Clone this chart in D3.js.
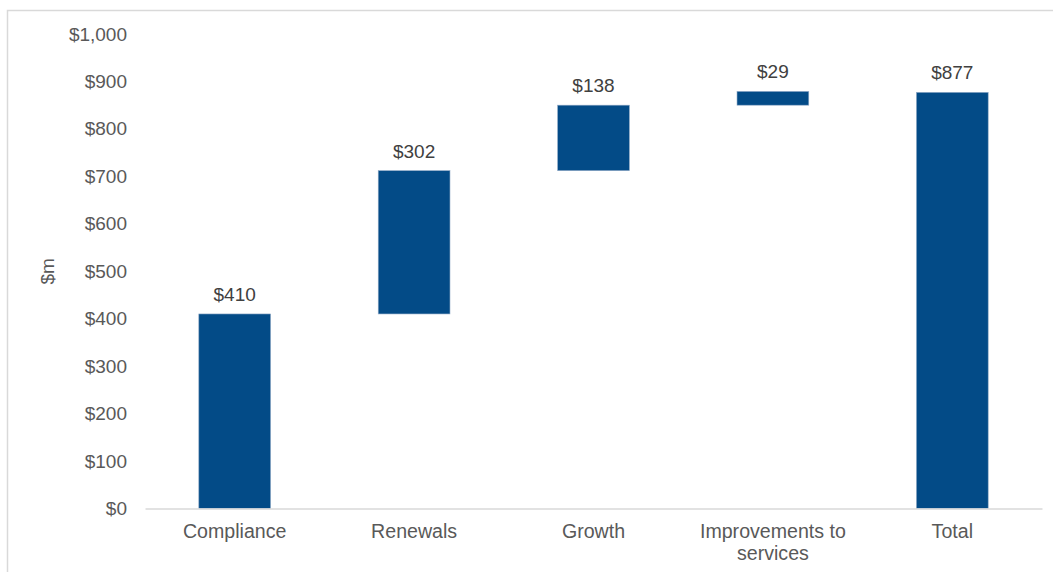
<!DOCTYPE html>
<html>
<head>
<meta charset="utf-8">
<script src="https://cdn.jsdelivr.net/npm/d3@7"></script>
<style>
  html, body { margin: 0; padding: 0; background: #fff; }
  svg { display: block; font-family: "Liberation Sans", Arial, sans-serif; }
</style>
</head>
<body>
<svg id="chart" width="1053" height="572"></svg>
<script>
// Waterfall of funding components ($m)
const categories = ["Compliance", "Renewals", "Growth", "Improvements to services", "Total"];
const increments = [410, 302, 138, 29];
const totalValue = 877;
const valueLabels = ["$410", "$302", "$138", "$29", "$877"];
const yTicks = [0, 100, 200, 300, 400, 500, 600, 700, 800, 900, 1000];

const W = 1053, H = 572;
const margin = { left: 145, right: 11, top: 34, bottom: 63.5 };
const barColor = "#034b87";
const textColor = "#595959";
const fontSize = "19px";
const catFontSize = "19.6px";

const svg = d3.select("#chart");

// outer frame
svg.append("rect")
  .attr("x", 7.5).attr("y", 10.5)
  .attr("width", W + 10).attr("height", H + 10)
  .attr("fill", "none").attr("stroke", "#d9d9d9").attr("stroke-width", 1.5);

const x = d3.scaleBand()
  .domain(categories)
  .range([margin.left, W - margin.right])
  .paddingInner(0.6).paddingOuter(0.3);

const y = d3.scaleLinear()
  .domain([0, 1000])
  .range([H - margin.bottom, margin.top]);

// build floating segments: each step starts where the previous ended
let running = 0;
const segments = increments.map((v, i) => {
  const s = { cat: categories[i], start: running, end: running + v, label: valueLabels[i] };
  running += v;
  return s;
});
segments.push({ cat: categories[4], start: 0, end: totalValue, label: valueLabels[4] });

// y axis labels (no axis line, no ticks)
const yAxis = d3.axisLeft(y)
  .tickValues(yTicks)
  .tickSize(0)
  .tickPadding(0)
  .tickFormat(d => "$" + d3.format(",")(d));
const gy = svg.append("g")
  .attr("transform", `translate(${127},0)`)
  .call(yAxis);
gy.select(".domain").remove();
gy.selectAll("text")
  .attr("fill", textColor)
  .style("font-size", fontSize)
  .style("font-family", "'Liberation Sans', Arial, sans-serif");

// y axis title
svg.append("text")
  .attr("transform", `translate(54,${(y(0) + y(1000)) / 2}) rotate(-90)`)
  .attr("text-anchor", "middle")
  .attr("fill", textColor)
  .style("font-size", fontSize)
  .text("$m");

// bars
svg.append("g").selectAll("rect")
  .data(segments)
  .join("rect")
  .attr("x", d => x(d.cat))
  .attr("width", x.bandwidth())
  .attr("y", d => y(d.end))
  .attr("height", d => y(d.start) - y(d.end))
  .attr("fill", barColor)
  .attr("stroke", "#8fa9c6")
  .attr("stroke-width", 0.6);

// value labels
svg.append("g").selectAll("text")
  .data(segments)
  .join("text")
  .attr("x", d => x(d.cat) + x.bandwidth() / 2)
  .attr("y", d => y(d.end) - 13)
  .attr("text-anchor", "middle")
  .attr("fill", "#404040")
  .style("font-size", fontSize)
  .text(d => d.label);

// x axis
const xAxis = d3.axisBottom(x).tickSize(0).tickPadding(0);
const gx = svg.append("g")
  .attr("transform", `translate(0,${y(0)})`)
  .call(xAxis);
gx.select(".domain").attr("stroke", "#d9d9d9").attr("stroke-width", 1.5);
gx.selectAll(".tick text").remove();

// category labels, wrapped to two lines where needed
const wrapMap = { "Improvements to services": ["Improvements to", "services"] };
gx.selectAll(".tick").each(function (d) {
  const lines = wrapMap[d] || [d];
  const t = d3.select(this).append("text")
    .attr("text-anchor", "middle")
    .attr("fill", textColor)
    .style("font-size", catFontSize)
    .style("font-family", "'Liberation Sans', Arial, sans-serif");
  lines.forEach((ln, i) => {
    t.append("tspan").attr("x", 0).attr("y", 29.5 + i * 21.5).text(ln);
  });
});
</script>
</body>
</html>
